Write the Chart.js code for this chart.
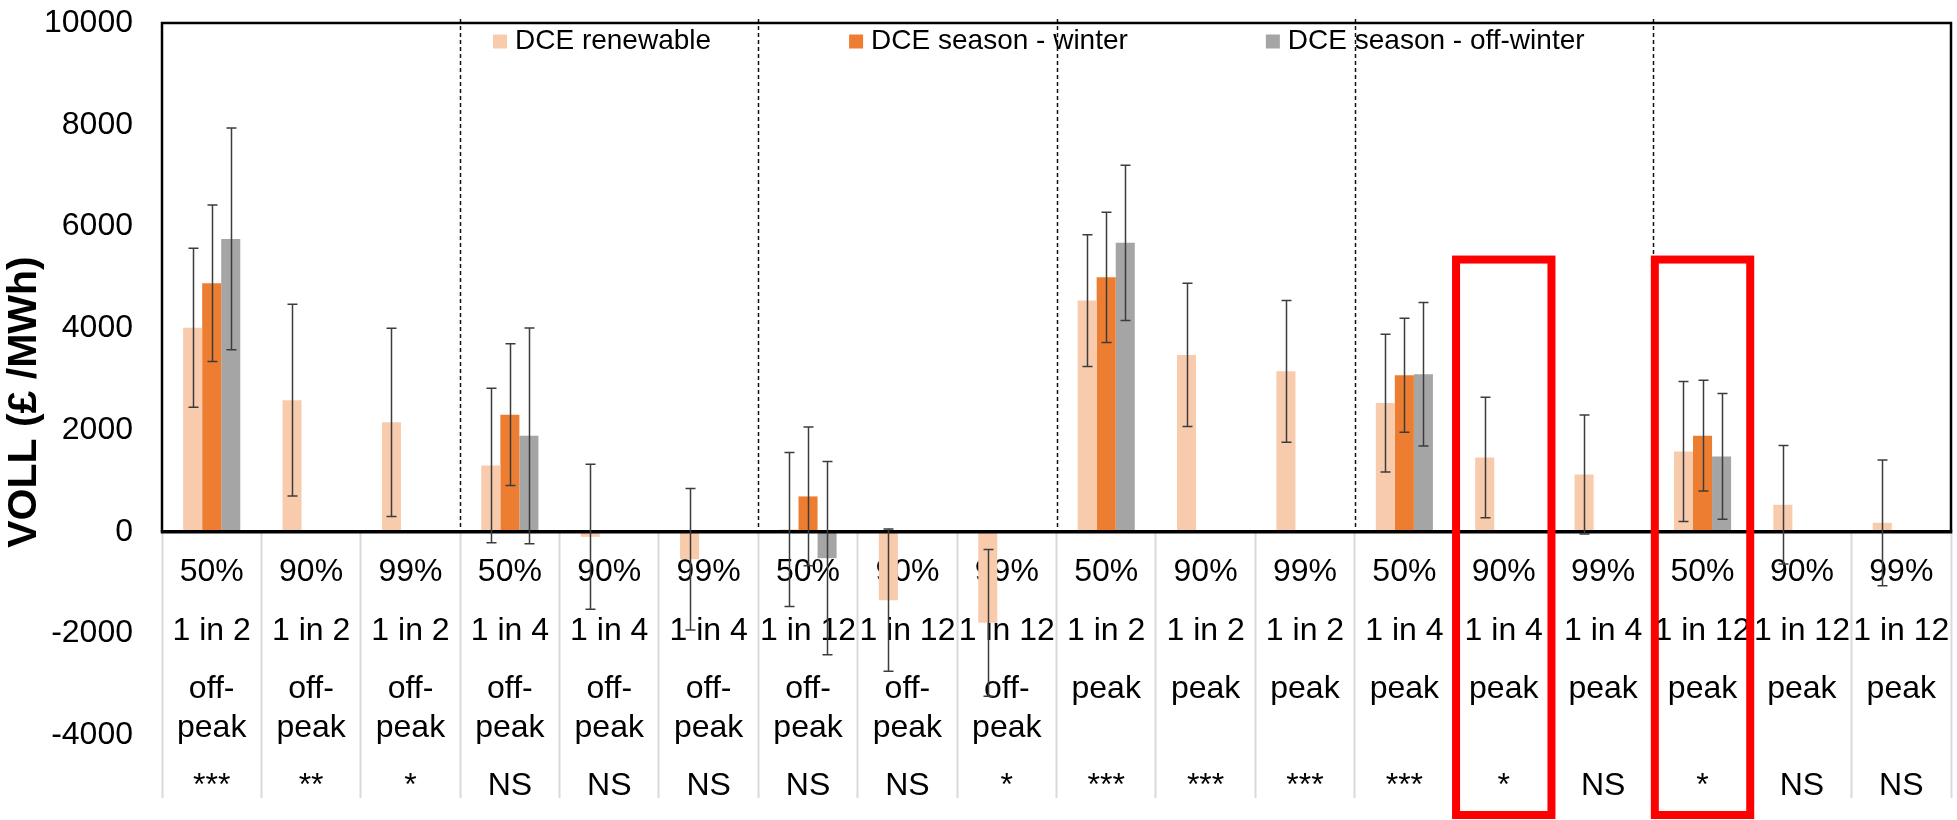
<!DOCTYPE html>
<html>
<head>
<meta charset="utf-8">
<title>VOLL by scenario</title>
<script src="https://cdn.jsdelivr.net/npm/chart.js@4.4.1/dist/chart.umd.min.js"></script>
<style>
  html, body { margin: 0; padding: 0; background: #fff; }
  #wrap { width: 1957px; height: 820px; }
</style>
</head>
<body>
<div id="wrap"><canvas id="chart" width="1957" height="820"></canvas></div>
<script>
// ---- category axis ----
const probLevels = ['50%', '90%', '99%', '50%', '90%', '99%', '50%', '90%', '99%',
                    '50%', '90%', '99%', '50%', '90%', '99%', '50%', '90%', '99%'];
const returnPeriods = ['1 in 2', '1 in 2', '1 in 2', '1 in 4', '1 in 4', '1 in 4', '1 in 12', '1 in 12', '1 in 12',
                       '1 in 2', '1 in 2', '1 in 2', '1 in 4', '1 in 4', '1 in 4', '1 in 12', '1 in 12', '1 in 12'];
const periods = ['off-peak', 'off-peak', 'off-peak', 'off-peak', 'off-peak', 'off-peak', 'off-peak', 'off-peak', 'off-peak',
                 'peak', 'peak', 'peak', 'peak', 'peak', 'peak', 'peak', 'peak', 'peak'];
const significance = ['***', '**', '*', 'NS', 'NS', 'NS', 'NS', 'NS', '*',
                      '***', '***', '***', '***', '*', 'NS', '*', 'NS', 'NS'];

// ---- series (£/MWh) and half-widths of their error bars ----
const renewable    = [4010, 2585, 2150, 1300, -100, -540, 45, -1345, -1790, 4545, 3475, 3152, 2530, 1457, 1126, 1579, 530, 175];
const renewableErr = [1563, 1885, 1852, 1518, 1426, 1390, 1514, 1400, 1442, 1295, 1409, 1394, 1354, 1184, 1170, 1376, 1163, 1236];
const winter       = [4885, null, null, 2300, null, null, 694, null, null, 5000, null, null, 3075, null, null, 1888, null, null];
const winterErr    = [1537, null, null, 1393, null, null, 1365, null, null, 1278, null, null, 1121, null, null, 1089, null, null];
const offWinter    = [5755, null, null, 1886, null, null, -520, null, null, 5678, null, null, 3095, null, null, 1480, null, null];
const offWinterErr = [2180, null, null, 2121, null, null, 1900, null, null, 1525, null, null, 1409, null, null, 1236, null, null];

// ---- value axis ----
const yTicks = [-4000, -2000, 0, 2000, 4000, 6000, 8000, 10000];

// ---- highlighted scenarios ----
const highlighted = [13, 15];

const FONT = "'Liberation Sans', Arial, Helvetica, sans-serif";
Chart.defaults.font.family = FONT;
Chart.defaults.color = '#000';

// Multi-line category labels laid out on a fine line grid so that
// "off-" / "peak" sit closer together than the other rows.
const labels = probLevels.map((p, i) => {
  const per = periods[i] === 'off-peak' ? ['off-', '', 'peak'] : ['peak', '', ''];
  return [p, '', '', returnPeriods[i], '', '', ...per, '', '', significance[i]];
});

// first category of each new return-period / period block
const groupStarts = [];
for (let i = 1; i < labels.length; i++) {
  if (returnPeriods[i] !== returnPeriods[i - 1] || periods[i] !== periods[i - 1]) groupStarts.push(i);
}

function halfCategory(x) {
  return (x.getPixelForValue(1) - x.getPixelForValue(0)) / 2;
}

const legendPlugin = {
  id: 'inlineLegend',
  beforeDatasetsDraw(chart) {
    const { ctx, chartArea: a } = chart;
    ctx.save();
    ctx.font = '28px ' + FONT;
    ctx.textBaseline = 'alphabetic';
    ctx.textAlign = 'left';
    let x = a.left + 331;
    chart.data.datasets.forEach(ds => {
      ctx.fillStyle = ds.backgroundColor;
      ctx.fillRect(x, 34.5, 14, 14);
      ctx.fillStyle = '#000';
      ctx.fillText(ds.label, x + 22, 48.5);
      x += 22 + ctx.measureText(ds.label).width + 138;
    });
    ctx.restore();
  }
};

const framePlugin = {
  id: 'frame',
  afterDatasetsDraw(chart) {
    const { ctx, chartArea: a, scales: { x, y } } = chart;
    const top = y.getPixelForValue(y.max);
    const zero = y.getPixelForValue(0);
    const half = halfCategory(x);
    ctx.save();
    // dashed separators between scenario blocks
    ctx.strokeStyle = '#111';
    ctx.lineWidth = 1.5;
    ctx.setLineDash([4, 3]);
    groupStarts.forEach(i => {
      const px = Math.round(x.getPixelForValue(i) - half) + 0.5;
      ctx.beginPath();
      ctx.moveTo(px, top - 4);
      ctx.lineTo(px, zero);
      ctx.stroke();
    });
    ctx.setLineDash([]);
    // plot frame above the zero line
    ctx.strokeStyle = '#000';
    ctx.lineWidth = 2.5;
    ctx.beginPath();
    ctx.moveTo(a.left, zero);
    ctx.lineTo(a.left, top);
    ctx.lineTo(a.right, top);
    ctx.lineTo(a.right, zero);
    ctx.stroke();
    // zero axis
    ctx.lineWidth = 3.5;
    ctx.beginPath();
    ctx.moveTo(a.left - 1.25, zero);
    ctx.lineTo(a.right + 1.25, zero);
    ctx.stroke();
    ctx.restore();
  }
};

const errorBarPlugin = {
  id: 'errorBars',
  afterDatasetsDraw(chart) {
    const { ctx, scales: { y } } = chart;
    ctx.save();
    ctx.strokeStyle = '#3c3c3c';
    ctx.lineWidth = 1.5;
    chart.data.datasets.forEach((ds, di) => {
      const meta = chart.getDatasetMeta(di);
      ds.errors.forEach((e, i) => {
        const v = ds.data[i];
        if (v == null || e == null) return;
        const x = Math.round(meta.data[i].x) + 0.5;
        const hi = y.getPixelForValue(v + e);
        const lo = y.getPixelForValue(v - e);
        ctx.beginPath();
        ctx.moveTo(x, hi); ctx.lineTo(x, lo);
        ctx.moveTo(x - 5, hi); ctx.lineTo(x + 5, hi);
        ctx.moveTo(x - 5, lo); ctx.lineTo(x + 5, lo);
        ctx.stroke();
      });
    });
    ctx.restore();
  }
};

const highlightPlugin = {
  id: 'highlight',
  afterDraw(chart) {
    const { ctx, scales: { x, y } } = chart;
    const half = halfCategory(x);
    ctx.save();
    ctx.strokeStyle = '#ff0000';
    ctx.lineWidth = 8;
    highlighted.forEach(i => {
      const cx = x.getPixelForValue(i);
      const top = y.getPixelForValue(5350);
      const bottom = chart.height - 5;
      ctx.strokeRect(cx - half + 2, top, 2 * half - 4, bottom - top);
    });
    ctx.restore();
  }
};

new Chart(document.getElementById('chart'), {
  type: 'bar',
  data: {
    labels,
    datasets: [
      { label: 'DCE renewable', data: renewable, errors: renewableErr, backgroundColor: '#F8CBAD' },
      { label: 'DCE season - winter', data: winter, errors: winterErr, backgroundColor: '#ED7D31' },
      { label: 'DCE season - off-winter', data: offWinter, errors: offWinterErr, backgroundColor: '#A5A5A5' }
    ]
  },
  options: {
    responsive: false,
    animation: false,
    devicePixelRatio: 1,
    layout: { padding: { left: 0, right: 6, top: 23, bottom: 39 } },
    datasets: { bar: { barPercentage: 1, categoryPercentage: 0.575, borderWidth: 0 } },
    plugins: { legend: { display: false }, tooltip: { enabled: false } },
    scales: {
      x: {
        position: { y: 0 },
        offset: true,
        grid: {
          display: true, offset: true, drawOnChartArea: false, drawTicks: true,
          tickLength: 266, tickColor: '#d9d9d9', tickWidth: 2
        },
        border: { display: false },
        ticks: {
          autoSkip: false, maxRotation: 0, minRotation: 0, padding: -235, color: '#000',
          font: { size: 32, lineHeight: '19.45px' }
        }
      },
      y: {
        min: -4900,
        max: 10000,
        grid: { display: false, drawTicks: false },
        border: { display: false },
        afterBuildTicks: s => { s.ticks = yTicks.map(v => ({ value: v })); },
        afterFit: s => { s.width = 162; s.paddingTop = 0; s.paddingBottom = 0; },
        ticks: { padding: 29, color: '#000', font: { size: 32 }, callback: v => String(v) },
        title: {
          display: true, text: 'VOLL (£ /MWh)', color: '#000',
          font: { size: 41, weight: 'bold', lineHeight: 1.2 }, padding: { top: 0, bottom: 0 }
        }
      }
    }
  },
  plugins: [legendPlugin, framePlugin, errorBarPlugin, highlightPlugin]
});
</script>
</body>
</html>
